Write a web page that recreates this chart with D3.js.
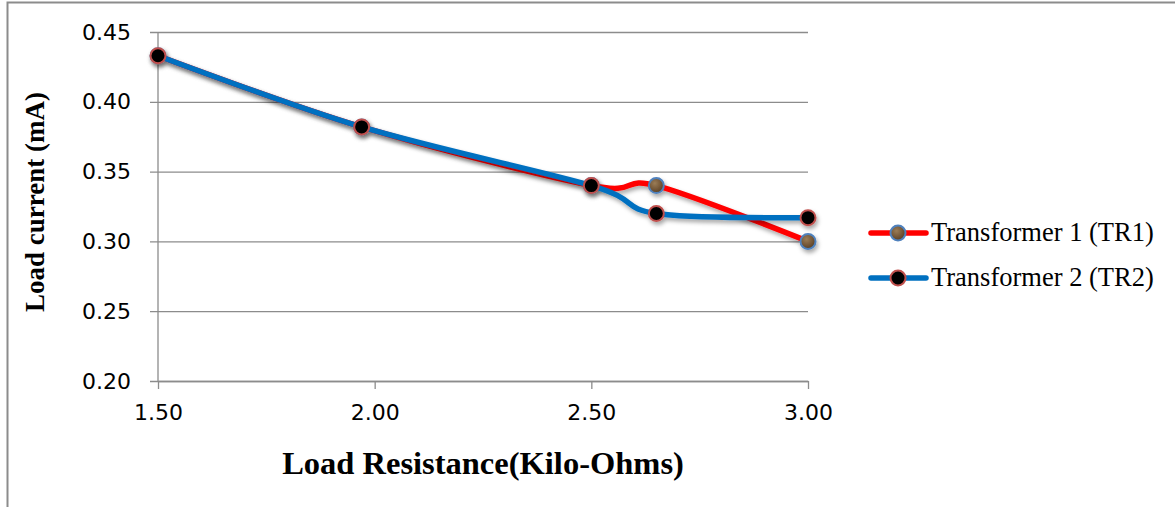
<!DOCTYPE html>
<html><head><meta charset="utf-8">
<script src="https://cdn.jsdelivr.net/npm/d3@7/dist/d3.min.js"></script>
<style>body{margin:0;background:#fff}svg{display:block}</style>
</head><body>
<svg id="c" width="1175" height="507"></svg>
<script>
const resistance = [1.50, 1.97, 2.50, 2.65, 3.00];
const tr1 = [0.433, 0.382, 0.340, 0.340, 0.300];
const tr2 = [0.433, 0.382, 0.340, 0.320, 0.317];
const seriesNames = ["Transformer 1 (TR1)", "Transformer 2 (TR2)"];
const xTicks = [1.50, 2.00, 2.50, 3.00];
const yTicks = [0.20, 0.25, 0.30, 0.35, 0.40, 0.45];

const svg = d3.select("#c");
const defs = svg.append("defs");
const sh = defs.append("filter").attr("id","sh").attr("x","-20%").attr("y","-20%").attr("width","140%").attr("height","160%");
sh.append("feDropShadow").attr("dx",1.5).attr("dy",3).attr("stdDeviation",2).attr("flood-color","#000").attr("flood-opacity",0.35);
const rg = defs.append("radialGradient").attr("id","brown").attr("cx","40%").attr("cy","35%").attr("r","70%");
rg.append("stop").attr("offset","0%").attr("stop-color","#9a7c56");
rg.append("stop").attr("offset","60%").attr("stop-color","#725536");
rg.append("stop").attr("offset","100%").attr("stop-color","#523c22");

// outer frame
svg.append("rect").attr("x",7.5).attr("y",2.5).attr("width",1300).attr("height",600)
  .attr("fill","none").attr("stroke","#8c8c8c").attr("stroke-width",2);

const x = d3.scaleLinear().domain([1.5,3.0]).range([158,808]);
const y = d3.scaleLinear().domain([0.20,0.45]).range([381,32]);

// gridlines + y axis
const gy = svg.append("g").attr("transform","translate(158,0)")
  .call(d3.axisLeft(y).tickValues(yTicks).tickSize(-(808-158)).tickSizeOuter(0).tickFormat(d3.format(".2f")).tickPadding(27));
gy.select(".domain").remove();
gy.selectAll(".tick line").attr("x1",-8).attr("stroke","#8c8c8c").attr("stroke-width",1.3);
gy.selectAll(".tick text").attr("font-family","DejaVu Sans").attr("font-size",22).attr("fill","#000");

// y axis line
svg.append("line").attr("x1",158).attr("x2",158).attr("y1",32).attr("y2",381).attr("stroke","#8c8c8c").attr("stroke-width",1.3);

// x axis
const gx = svg.append("g").attr("transform","translate(0,381)")
  .call(d3.axisBottom(x).tickValues(xTicks).tickSize(8).tickSizeOuter(0).tickFormat(d3.format(".2f")).tickPadding(15));
gx.select(".domain").attr("stroke","#8c8c8c").attr("stroke-width",1.3);
gx.selectAll(".tick line").attr("stroke","#8c8c8c").attr("stroke-width",1.3);
gx.selectAll(".tick text").attr("font-family","DejaVu Sans").attr("font-size",22).attr("fill","#000");

// titles
svg.append("text").attr("x",483).attr("y",474).attr("text-anchor","middle")
  .attr("font-family","Liberation Serif").attr("font-weight","bold").attr("font-size",32.5).text("Load Resistance(Kilo-Ohms)");
svg.append("text").attr("transform","translate(44,202) rotate(-90)").attr("text-anchor","middle")
  .attr("font-family","Liberation Serif").attr("font-weight","bold").attr("font-size",27).text("Load current (mA)");

const line = d3.line().x(d=>x(d[0])).y(d=>y(d[1])).curve(d3.curveCardinal.tension(0));
const series = [
  {vals: tr1, color:"#ff0000", mfill:"url(#brown)", mstroke:"#4f81bd"},
  {vals: tr2, color:"#0070c0", mfill:"#000", mstroke:"#c0504d"}
];
series.forEach(s => {
  const pts = resistance.map((r,i)=>[r, s.vals[i]]);
  const g = svg.append("g").attr("filter","url(#sh)");
  g.append("path").attr("d", line(pts)).attr("fill","none").attr("stroke",s.color).attr("stroke-width",5.5).attr("stroke-linejoin","round").attr("stroke-linecap","round");
  g.selectAll("circle").data(pts).join("circle").attr("cx",d=>x(d[0])).attr("cy",d=>y(d[1])).attr("r",7.5)
    .attr("fill",s.mfill).attr("stroke",s.mstroke).attr("stroke-width",2);
});

// legend
const lg = svg.append("g");
seriesNames.forEach((n,i)=>{
  const s = series[i];
  const yy = 233 + i*45;
  lg.append("line").attr("x1",871).attr("x2",926).attr("y1",yy).attr("y2",yy).attr("stroke",s.color).attr("stroke-width",5.5).attr("stroke-linecap","round");
  lg.append("circle").attr("cx",898).attr("cy",yy).attr("r",7.5).attr("fill",s.mfill).attr("stroke",s.mstroke).attr("stroke-width",2);
  lg.append("text").attr("x",931).attr("y",yy+8).attr("font-family","Liberation Serif").attr("font-size",26.5).attr("fill","#000").text(n);
});
</script>
</body></html>
